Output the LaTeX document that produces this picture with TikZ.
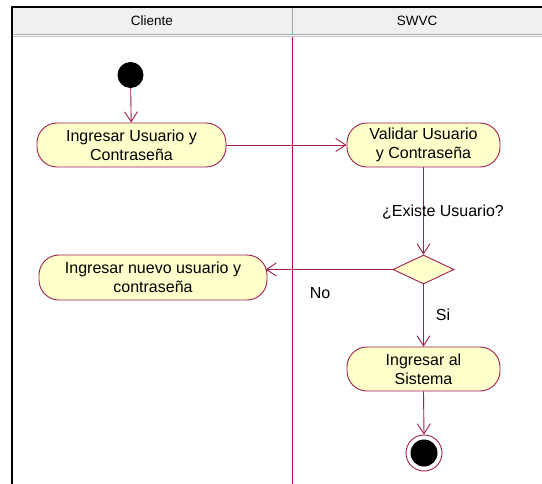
\documentclass[tikz,border=0pt]{standalone}
\usepackage{fontspec}
\setmainfont{Liberation Sans}
\usetikzlibrary{arrows.meta,shapes.geometric}
\definecolor{umlline}{RGB}{160,30,80}
\definecolor{lanered}{RGB}{205,0,65}
\definecolor{umlfill}{RGB}{255,255,204}
\definecolor{hdrfill}{RGB}{240,240,240}
\tikzset{
  actbox/.style={draw=umlline, fill=umlfill, line width=0.9pt, rounded corners=20pt,
    minimum height=44pt, align=center, inner sep=0pt,
    font=\fontsize{16}{19}\selectfont},
  decbox/.style={draw=umlline, fill=umlfill, line width=0.9pt, diamond, aspect=2.1,
    minimum width=61pt, minimum height=29pt, inner sep=0pt},
  flow/.style={draw=umlline, line width=0.9pt, -{Straight Barb[length=10pt,width=13pt,line width=0.9pt]}},
  lbl/.style={font=\fontsize{16}{19}\selectfont, inner sep=0pt},
  hdr/.style={font=\fontsize{13.5}{15}\selectfont, inner sep=0pt}
}
\begin{document}
\begin{tikzpicture}[x=1pt,y=-1pt]
\useasboundingbox (0,0) rectangle (542,484);
\fill[white] (0,0) rectangle (542,484);
% header
\fill[hdrfill] (12,8) rectangle (542,34);
\draw[gray!70, line width=1.2pt] (12,34.5) -- (542,34.5);
\draw[gray!50, line width=1pt] (12,36.5) -- (542,36.5);
\draw[gray!70, line width=1pt] (292,8) -- (292,34);
\draw[black, line width=1.8pt] (11,7) -- (542,7);
\draw[black, line width=1.8pt] (12,6.1) -- (12,484);
\node[hdr] (hc) at (152,21) {Cliente};
\node[hdr] (hs) at (417,21) {SWVC};
% lane divider
\draw[lanered, line width=1pt] (292,37) -- (292,484);
% nodes
\node[circle, fill=black, minimum size=26pt, inner sep=0pt] (init) at (130.5,75) {};
\node[actbox, minimum width=189pt] (a1) at (131.5,145) {Ingresar Usuario y\\Contraseña};
\node[actbox, minimum width=153pt] (a2) at (423.5,145) {Validar Usuario\\y Contraseña};
\node[decbox] (d) at (423.5,269.5) {};
\node[actbox, minimum width=228pt, minimum height=45pt] (a3) at (153,277.5) {Ingresar nuevo usuario y\\contraseña};
\node[actbox, minimum width=153pt] (a4) at (423.5,369) {Ingresar al\\Sistema};
\node[circle, draw=umlline, line width=0.9pt, fill=white, minimum size=36pt, inner sep=0pt] (fin) at (424,453) {};
\node[circle, fill=black, minimum size=27pt, inner sep=0pt] (finin) at (fin.center) {};
% connectors
\draw[flow] (init) -- (a1);
\draw[flow] (a1.east) -- (a2.west);
\draw[flow] (a2.south) -- (d.north);
\draw[flow] (d.west) -- ([xshift=-2pt]a3.east |- d.west);
\draw[flow] (d.south) -- (a4.north);
\draw[flow] (a4.south) -- (fin.north);
% labels
\node[lbl] (lq) at (443,212) {¿Existe Usuario?};
\node[lbl] (lno) at (320,293) {No};
\node[lbl] (lsi) at (443,315) {Si};
\end{tikzpicture}
\end{document}
